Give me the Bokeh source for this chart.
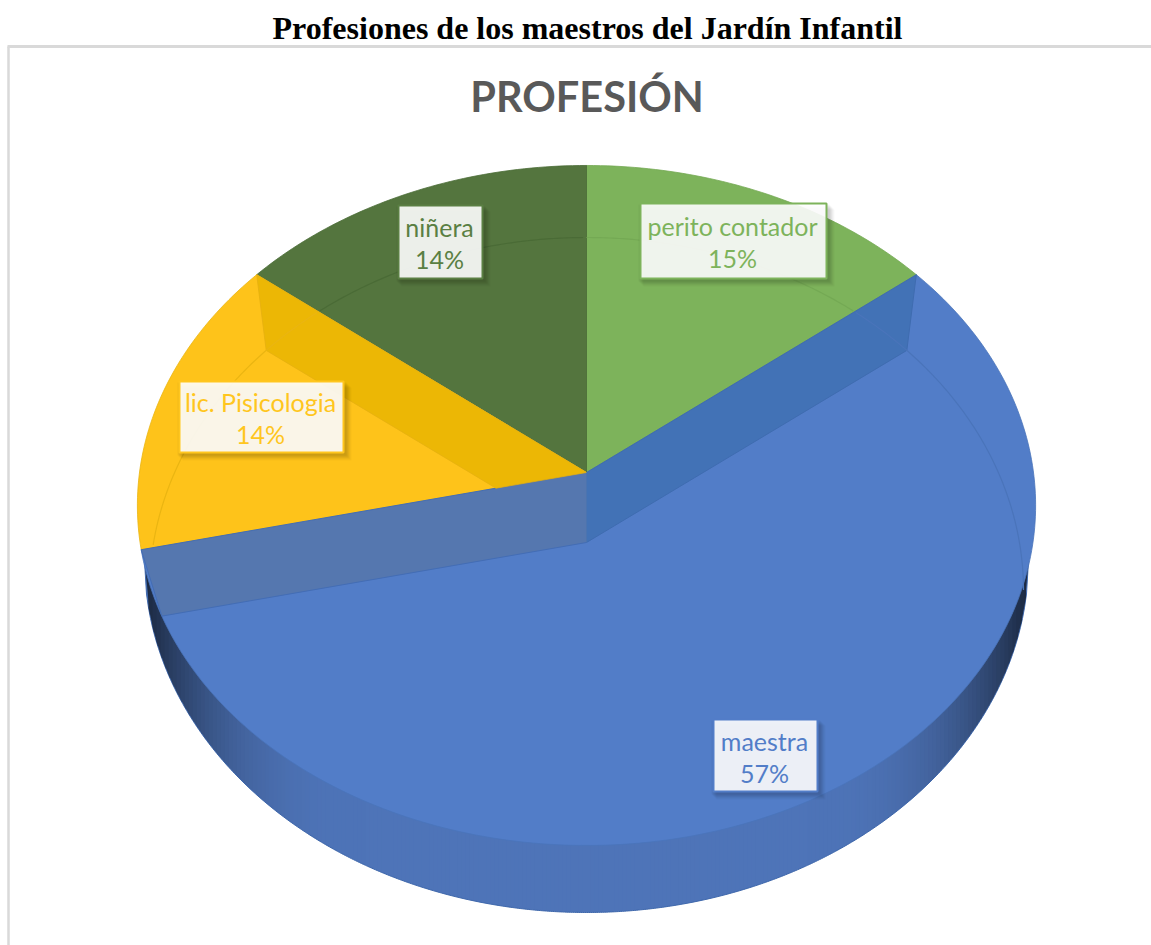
import math
from bokeh.plotting import figure
from bokeh.models import Range1d
from bokeh.core.properties import value
from bokeh.embed import file_html
from bokeh.resources import INLINE

# ---- data (clockwise from 12 o'clock) ----
categories = ["perito contador", "maestra", "lic. Pisicologia", "niñera"]
wedge_share = [14.3, 57.1, 14.3, 14.3]     # slice sizes
percent_labels = ["15%", "57%", "14%", "14%"]
chart_title = "PROFESIÓN"
page_title = "Profesiones de los maestros del Jardín Infantil"

# ---- styles ----
face = ["#7DB35B", "#527DC8", "#FEC31A", "#54753E"]
label_col = ["#7DB35B", "#527DC8", "#FFC61E", "#5A7F43"]
ring_col = ["#74A954", "#4A74BA", "#EAB512", "#4A6B36"]

W, H = 1151, 945
p = figure(width=W, height=H, x_range=Range1d(0, W), y_range=Range1d(H, 0),
           output_backend="svg", toolbar_location=None, min_border=0,
           x_axis_type=None, y_axis_type=None, outline_line_color=None)
p.grid.visible = False
p.background_fill_color = "#FFFFFF"
p.border_fill_color = "#FFFFFF"

# ---- pie geometry in page pixels ----
CX, AY = 586.0, 472.0      # apex of upper face
IAY = 542.0                # apex of sunken face
A, B, K = 447.0, 336.8, 0.097
def rim(t):
    x, y = math.sin(t), math.cos(t)
    d = 1 + K * y
    return CX + A * x / d, AY - B * y / d

RING_Y, RING_RX, RING_RY = 590.0, 437.0, 353.0
def ring_pt(phi):
    return CX + RING_RX * math.sin(phi), RING_Y - RING_RY * math.cos(phi)

def inside_ring(x, y):
    if y <= RING_Y:
        return ((x - CX) / RING_RX) ** 2 + ((y - RING_Y) / RING_RY) ** 2 < 1
    return ((x - CX) / 449.1) ** 2 + ((y - 505) / 340.0) ** 2 < 1

def inner(t):
    px, py = rim(t)
    dx, dy = px - CX, py - AY
    lo, hi = 0.0, 2.0
    for _ in range(40):
        m = (lo + hi) / 2
        if inside_ring(CX + dx * m, IAY + dy * m):
            lo = m
        else:
            hi = m
    return CX + dx * lo, IAY + dy * lo

def cross(a, b, c, d):
    x1, y1 = a; x2, y2 = b; x3, y3 = c; x4, y4 = d
    den = (x1 - x2) * (y3 - y4) - (y1 - y2) * (x3 - x4)
    u = ((x1 - x3) * (y3 - y4) - (y1 - y3) * (x3 - x4)) / den
    return x1 + u * (x2 - x1), y1 + u * (y2 - y1)

bounds = [0.0]
for s in wedge_share:
    bounds.append(bounds[-1] + s / sum(wedge_share) * 2 * math.pi)

# ---- outer wall, with horizontal shading ----
SX, SY, SRX, SRY = CX, 560.0, 442.0, 352.0
def wall_col(x):
    t = abs(x - CX) / 445.0
    f = 1.0 if t < 0.5 else 1 - 0.68 * ((t - 0.5) / 0.5) ** 2.6
    return "#%02x%02x%02x" % (int(78 * f), int(116 * f), int(184 * f))

def yb(x):
    return SY + SRY * math.sqrt(max(0, 1 - ((x - SX) / SRX) ** 2))

# base silhouette so that no white can show between strips
n = 440
base_x = [SX - SRX + 2 * SRX * i / n for i in range(n + 1)]
base_y = [yb(x) for x in base_x]
p.patch([base_x[0]] + base_x + [base_x[-1]], [530] + base_y + [530],
        fill_color="#3F68AC", line_color="#3F68AC", line_width=1)
strips = []
m_s = 220
for i in range(m_s):
    x0 = SX - SRX + 2 * SRX * i / m_s
    x1 = SX - SRX + 2 * SRX * (i + 1) / m_s
    strips.append((x0, x1))
xs_w, ys_w, cols = [], [], []
for x0, x1 in strips:
    xe = min(x1 + 1.5, SX + SRX)
    xs_w.append([x0, xe, xe, x0])
    ys_w.append([530, 530, yb(xe) - 0.6, yb(x0) - 0.6])
    cols.append(wall_col((x0 + x1) / 2))
p.patches(xs_w, ys_w, fill_color=cols, line_color=None)

# ---- slices ----
order = [1, 0, 3, 2]
for i in order:
    t0, t1 = bounds[i], bounds[i + 1]
    m = max(8, int((t1 - t0) * 60))
    pts = [rim(t0 + (t1 - t0) * j / m) for j in range(m + 1)]
    px = [CX] + [q[0] for q in pts]
    py = [AY] + [q[1] for q in pts]
    p.patch(px, py, fill_color=face[i], line_color=ring_col[i], line_width=1, line_alpha=0.8)

# ---- sunken walls ----
t_gb, t_by, t_yn = bounds[1], bounds[2], bounds[3]
a1, a2 = rim(t_gb), inner(t_gb)
p.patch([CX, a1[0], a2[0], CX], [AY, a1[1], a2[1], IAY],
        fill_color="#4272B6", line_color="#3F6CB0", line_width=1)
b1, b2 = rim(t_by), inner(t_by)
p.patch([CX, b1[0], b2[0], CX], [AY, b1[1], b2[1], IAY],
        fill_color="#5577AF", line_color="#436DB5", line_width=1)
c1, c2 = rim(t_yn), inner(t_yn)
c3 = cross(c2, (CX, IAY), (CX, AY), b1)
p.patch([CX, c1[0], c2[0], c3[0]], [AY, c1[1], c2[1], c3[1]],
        fill_color="#ECB705", line_color="#E6B010", line_width=0.8)
p.line([CX, CX], [AY, IAY], line_color="#4B74B0", line_width=1)

# ---- inner ring, per slice ----
ang_g = math.atan2(a1[0] - CX, AY - a1[1])
ang_y = math.atan2(c1[0] - CX, AY - c1[1])
ang_b = math.atan2(b1[0] - CX, AY - b1[1])
seg = {0: [], 1: [], 2: [], 3: []}
for j in range(-220, 221):
    phi = j / 220 * 1.66
    x, y = ring_pt(phi)
    a = math.atan2(x - CX, AY - y)
    if y > 590:
        continue
    if 0 <= a <= ang_g:
        seg[0].append((x, y))
    elif a > ang_g:
        seg[1].append((x, y))
    elif ang_y <= a < 0:
        seg[3].append((x, y))
    elif ang_b <= a < ang_y:
        if y < 545:
            seg[2].append((x, y))
for k, v in seg.items():
    if v:
        v = sorted(v, key=lambda q: q[0])
        p.line([q[0] for q in v], [q[1] for q in v], line_color=ring_col[k], line_width=1.2)

# ---- data labels ----
boxes = [(640, 826, 203, 278), (713, 817, 719, 791), (179, 343, 381, 452), (398, 482, 205, 278)]
font = value("Lato")
for i, (l, r, t, b) in enumerate(boxes):
    for off, al in ((8, 0.025), (7, 0.03), (6, 0.035), (5, 0.04), (4, 0.04), (3, 0.04)):
        p.quad(left=[l + off - 5], right=[r + off], top=[t + off - 2], bottom=[b + off],
               fill_color="#000000", fill_alpha=al, line_color=None)
    p.quad(left=[l], right=[r], top=[t], bottom=[b], fill_color="#FFFFFF", fill_alpha=0.9,
           line_color=label_col[i], line_width=2)
    xc = (l + r) / 2
    yc = (t + b) / 2
    p.text([xc - 1], [yc - 15], text=[categories[i]], text_font=font, text_font_size="25px",
           text_color=label_col[i], text_align="center", text_baseline="middle")
    p.text([xc - 1], [yc + 17], text=[percent_labels[i]], text_font=font, text_font_size="25px",
           text_color=label_col[i], text_align="center", text_baseline="middle")

# ---- chart frame and titles ----
p.line([8, 8], [46, H], line_color="#D9D9D9", line_width=2.5)
p.line([7, W], [46, 46], line_color="#D9D9D9", line_width=3)
p.text([587], [27.5], text=[page_title], text_font=value("Liberation Serif"), text_font_size="32px",
       text_font_style="bold", text_color="#000000", text_align="center", text_baseline="middle")
p.text([586.5], [95], text=[chart_title], text_font=value("Lato"), text_font_size="41.5px",
       text_font_style="bold", text_color="#595959", text_align="center", text_baseline="middle")

open("out.html", "w").write(file_html(p, INLINE))
